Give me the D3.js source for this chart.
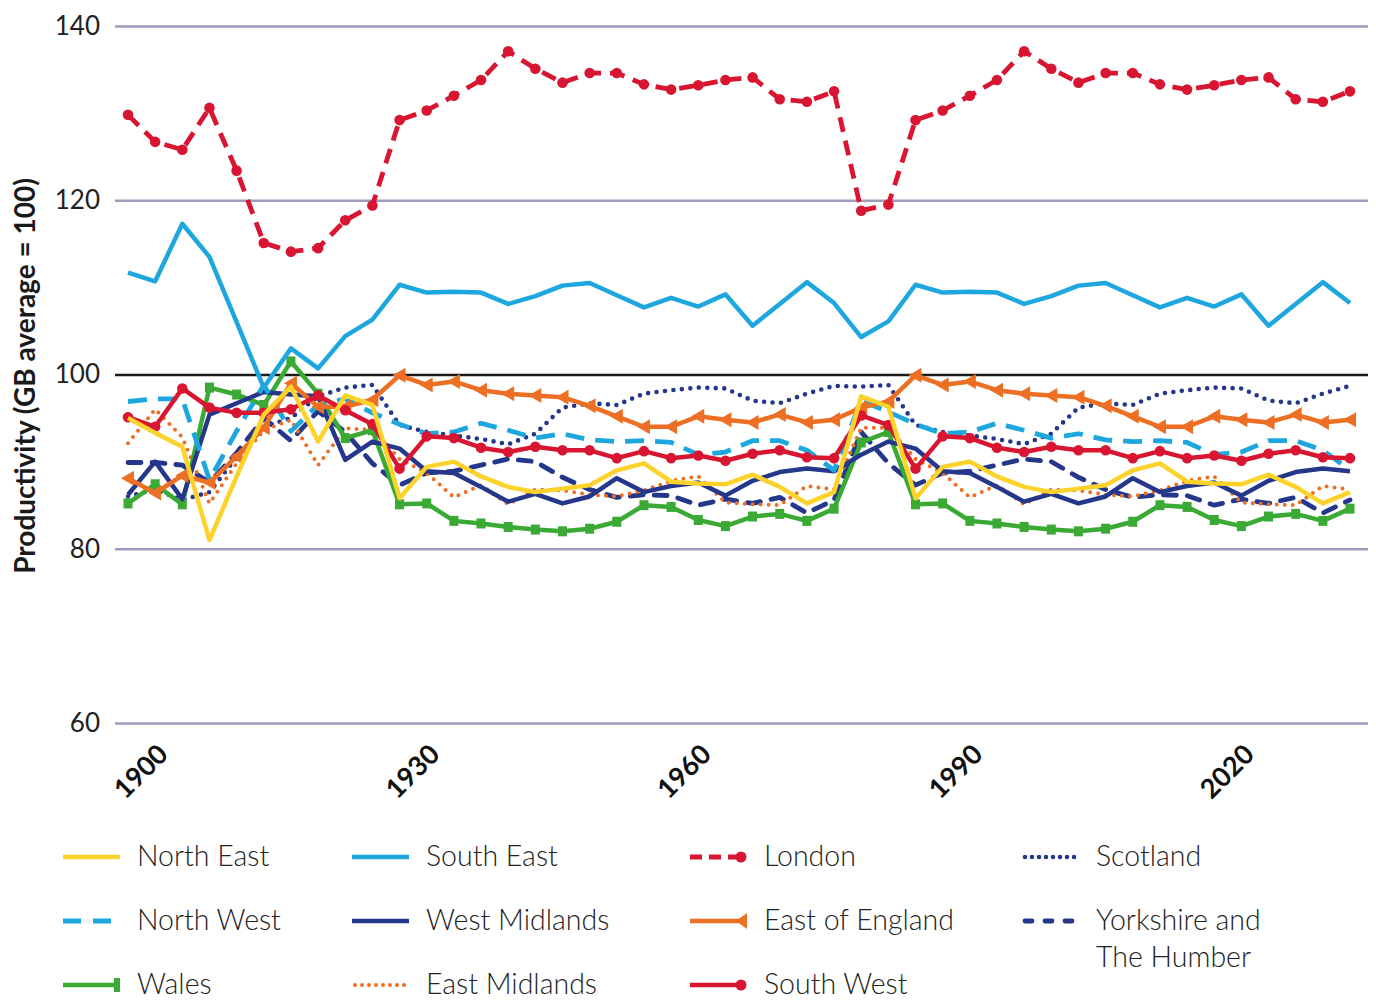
<!DOCTYPE html>
<html><head><meta charset="utf-8">
<script src="https://cdn.jsdelivr.net/npm/d3@7"></script>
<style>
body{margin:0;background:#fff;}
svg{display:block;font-family:Lato,"Open Sans","Noto Sans",sans-serif;}
</style>
</head><body>
<svg id="chart" width="1376" height="1000"></svg>
<script>
// ---------- data ----------
const years = [1897,1900,1903,1906,1909,1912,1915,1918,1921,1924,1927,1930,1933,1936,1939,1942,1945,1948,1951,1954,1957,1960,1963,1966,1969,1972,1975,1978,1981,1984,1987,1990,1993,1996,1999,2002,2005,2008,2011,2014,2017,2020,2023,2026,2029,2032];
const yTickValues = [60,80,100,120,140];
const xTickValues = [1900,1930,1960,1990,2020];
const xTickLabels = ["1900","1930","1960","1990","2020"];
const yTitle = "Productivity (GB average = 100)";

const seriesNames = ["North East","South East","London","Scotland","North West","West Midlands","East of England","Yorkshire and The Humber","Wales","East Midlands","South West"];

const northEast = [95.0,93.3,91.7,81.0,88.3,95.4,98.6,92.3,97.6,96.5,85.8,89.4,90.0,88.3,87.1,86.5,86.9,87.3,89.0,89.8,87.7,87.5,87.4,88.5,87.1,85.2,86.5,97.5,96.3,85.8,89.4,90.0,88.3,87.1,86.5,86.9,87.3,89.0,89.8,87.7,87.5,87.4,88.5,87.1,85.2,86.5];
const southEast = [111.7,110.7,117.3,113.5,106.0,98.5,103.0,100.7,104.4,106.3,110.3,109.4,109.5,109.4,108.1,109.0,110.2,110.5,109.1,107.7,108.8,107.8,109.2,105.6,108.1,110.6,108.2,104.3,106.1,110.3,109.4,109.5,109.4,108.1,109.0,110.2,110.5,109.1,107.7,108.8,107.8,109.2,105.6,108.1,110.6,108.2];
const london = [129.8,126.7,125.8,130.6,123.4,115.1,114.1,114.5,117.7,119.4,129.2,130.3,132.0,133.8,137.1,135.1,133.5,134.6,134.6,133.3,132.7,133.2,133.8,134.1,131.6,131.3,132.5,118.8,119.5,129.2,130.3,132.0,133.8,137.1,135.1,133.5,134.6,134.6,133.3,132.7,133.2,133.8,134.1,131.6,131.3,132.5];
const scotland = [86.0,86.8,85.6,86.5,90.5,94.0,95.0,97.5,98.5,98.8,94.2,93.4,93.0,92.6,92.0,93.2,96.2,96.7,96.5,97.8,98.2,98.5,98.4,97.0,96.7,97.8,98.7,98.6,98.8,94.2,93.4,93.0,92.6,92.0,93.2,96.2,96.7,96.5,97.8,98.2,98.5,98.4,97.0,96.7,97.8,98.7];
const northWest = [96.9,97.2,97.2,87.9,93.5,98.8,93.5,96.5,97.2,95.6,94.3,93.2,93.4,94.4,93.6,92.7,93.2,92.5,92.3,92.4,92.2,90.8,91.1,92.4,92.4,91.3,89.0,97.0,95.7,94.3,93.2,93.4,94.4,93.6,92.7,93.2,92.5,92.3,92.4,92.2,90.8,91.1,92.4,92.4,91.3,89.0];
const westMidlands = [86.2,90.0,85.7,95.4,96.7,98.0,97.7,97.5,90.2,92.3,91.5,88.9,88.7,87.1,85.4,86.3,85.2,86.0,88.1,86.5,87.2,87.6,86.1,87.8,88.8,89.2,88.9,90.8,92.3,91.5,88.9,88.7,87.1,85.4,86.3,85.2,86.0,88.1,86.5,87.2,87.6,86.1,87.8,88.8,89.2,88.9];
const eastOfEngland = [88.1,86.4,88.4,87.6,90.6,93.9,99.0,96.3,96.3,97.1,99.9,98.8,99.2,98.2,97.8,97.6,97.4,96.4,95.2,94.0,94.0,95.2,94.8,94.5,95.4,94.5,94.8,96.2,96.9,99.9,98.8,99.2,98.2,97.8,97.6,97.4,96.4,95.2,94.0,94.0,95.2,94.8,94.5,95.4,94.5,94.8];
const yorkshire = [89.9,89.9,89.6,87.6,91.0,95.0,92.4,95.8,93.4,89.8,87.3,88.7,88.9,89.6,90.3,90.0,88.2,86.8,85.9,86.2,86.1,85.0,85.7,85.2,85.9,84.1,85.6,93.4,89.8,87.3,88.7,88.9,89.6,90.3,90.0,88.2,86.8,85.9,86.2,86.1,85.0,85.7,85.2,85.9,84.1,85.6];
const wales = [85.2,87.4,85.1,98.5,97.7,96.5,101.5,97.8,92.7,93.6,85.1,85.2,83.2,82.9,82.5,82.2,82.0,82.3,83.1,85.0,84.8,83.3,82.6,83.7,84.0,83.2,84.6,92.2,93.4,85.1,85.2,83.2,82.9,82.5,82.2,82.0,82.3,83.1,85.0,84.8,83.3,82.6,83.7,84.0,83.2,84.6];
const eastMidlands = [92.1,96.0,92.8,85.2,89.8,93.6,94.8,89.6,93.8,93.7,90.3,88.7,85.9,87.3,85.1,86.8,86.7,86.2,86.0,86.7,87.8,88.3,85.3,85.1,85.0,87.2,86.8,93.9,93.9,90.3,88.7,85.9,87.3,85.1,86.8,86.7,86.2,86.0,86.7,87.8,88.3,85.3,85.1,85.0,87.2,86.8];
const southWest = [95.1,94.0,98.4,96.2,95.6,95.6,96.0,97.6,95.9,94.3,89.2,92.9,92.7,91.6,91.1,91.7,91.3,91.3,90.4,91.2,90.4,90.7,90.1,90.9,91.3,90.5,90.4,95.3,94.2,89.2,92.9,92.7,91.6,91.1,91.7,91.3,91.3,90.4,91.2,90.4,90.7,90.1,90.9,91.3,90.5,90.4];

// ---------- styles ----------
const C = {yellow:"#fdd22b", lblue:"#1ea7df", red:"#d81631", navy:"#25378a", orange:"#ec6f23", green:"#3aaa35"};
const styles = {
  "North East":{color:C.yellow,w:4.5,dash:null},
  "South East":{color:C.lblue,w:4.5,dash:null},
  "London":{color:C.red,w:4.8,dash:"15 9",marker:"circle"},
  "Scotland":{color:C.navy,w:4.6,dash:"0 8.5",cap:"round"},
  "North West":{color:C.lblue,w:4.8,dash:"19 11"},
  "West Midlands":{color:C.navy,w:4.5,dash:null},
  "East of England":{color:C.orange,w:4.5,dash:null,marker:"tri"},
  "Yorkshire and The Humber":{color:C.navy,w:4.8,dash:"13 11",cap:"round"},
  "Wales":{color:C.green,w:4.5,dash:null,marker:"square"},
  "East Midlands":{color:C.orange,w:4.0,dash:"0 8",cap:"round"},
  "South West":{color:C.red,w:4.5,dash:null,marker:"circle"}
};
const valuesByName = {
  "North East":northEast,"South East":southEast,"London":london,"Scotland":scotland,
  "North West":northWest,"West Midlands":westMidlands,"East of England":eastOfEngland,
  "Yorkshire and The Humber":yorkshire,"Wales":wales,"East Midlands":eastMidlands,"South West":southWest
};
const drawOrder = ["Scotland","Yorkshire and The Humber","East Midlands","Wales","West Midlands","North West","South East","East of England","South West","London","North East"];

// ---------- chart ----------
const svg = d3.select("#chart");
const plotLeft = 115, plotRight = 1368;
const x = d3.scaleLinear().domain([1897,2032]).range([128,1350]);
const y = d3.scaleLinear().domain([60,140]).range([723,26]);

// gridlines + y labels
const yAxis = svg.append("g").attr("transform",`translate(${plotLeft},0)`)
  .call(d3.axisLeft(y).tickValues(yTickValues).tickSize(-(plotRight-plotLeft)).tickPadding(15).tickFormat(d3.format("d")));
yAxis.select(".domain").remove();
yAxis.selectAll(".tick line").attr("stroke",d=>d===100?"#1a1a1a":"#9f9bbd").attr("stroke-width",2.6);
yAxis.selectAll(".tick text").attr("font-size",26).attr("fill","#222").attr("font-family","Lato,sans-serif").attr("font-weight",400);

// x labels
const xAxis = svg.append("g").attr("transform","translate(0,723)")
  .call(d3.axisBottom(x).tickValues(xTickValues).tickSize(0).tickFormat((d,i)=>xTickLabels[i]));
xAxis.select(".domain").remove();
xAxis.selectAll(".tick text")
  .attr("x",0).attr("y",0).attr("dy",0)
  .attr("transform","translate(14,33) rotate(-45)")
  .attr("text-anchor","end")
  .attr("font-size",27).attr("font-weight",700).attr("fill","#111").attr("font-family","Lato,sans-serif");

// y title
svg.append("text").attr("transform","translate(35,376) rotate(-90)")
  .attr("text-anchor","middle").attr("font-size",28).attr("font-weight",700).attr("fill","#1a1a1a")
  .text(yTitle);

const line = d3.line().x((d,i)=>x(years[i])).y(d=>y(d));
const triPath = "M-7,0 L6,-7.5 L6,7.5 Z";

const linesG = svg.append("g");
drawOrder.forEach(name=>{
  const s = styles[name], vals = valuesByName[name];
  const g = linesG.append("g");
  g.append("path").datum(vals).attr("d",line).attr("fill","none")
    .attr("stroke",s.color).attr("stroke-width",s.w)
    .attr("stroke-dasharray",s.dash).attr("stroke-linecap",s.cap||"butt").attr("stroke-linejoin","round");
  if(s.marker==="circle"){
    g.selectAll("circle").data(vals).join("circle")
      .attr("cx",(d,i)=>x(years[i])).attr("cy",d=>y(d)).attr("r",5.3).attr("fill",s.color);
  } else if(s.marker==="tri"){
    g.selectAll("path.m").data(vals).join("path").attr("class","m")
      .attr("d",triPath).attr("transform",(d,i)=>`translate(${x(years[i])},${y(d)})`).attr("fill",s.color);
  } else if(s.marker==="square"){
    g.selectAll("rect").data(vals).join("rect")
      .attr("x",(d,i)=>x(years[i])-4.5).attr("y",d=>y(d)-5).attr("width",9).attr("height",10).attr("fill",s.color);
  }
});

// ---------- legend ----------
const colX = [63,352,690,1022];
const rowY = [857,921,985];
const legend = svg.append("g");
seriesNames.forEach((name,k)=>{
  const s = styles[name];
  const cx = colX[k%4], cy = rowY[Math.floor(k/4)];
  const g = legend.append("g").attr("transform",`translate(${cx},${cy})`);
  let len = 57;
  let dash = s.dash;
  if(name==="London") dash = "12 7";
  if(name==="North West") dash = "18 12";
  if(name==="Yorkshire and The Humber") dash = "7 13";
  if(name==="Scotland") dash = "0 7";
  if(name==="East Midlands") dash = "0 7";
  const lineEnd = s.marker ? len-4 : len;
  g.append("line").attr("x1",s.cap==="round"?3:0).attr("x2",lineEnd).attr("y1",0).attr("y2",0)
    .attr("stroke",s.color).attr("stroke-width",s.w).attr("stroke-dasharray",dash).attr("stroke-linecap",s.cap||"butt");
  if(s.marker==="circle") g.append("circle").attr("cx",len-6).attr("cy",0).attr("r",5.5).attr("fill",s.color);
  if(s.marker==="tri") g.append("path").attr("d","M-6,0 L5,-8 L5,8 Z").attr("transform",`translate(${len-5},0)`).attr("fill",s.color);
  if(s.marker==="square") g.append("rect").attr("x",len-6).attr("y",-7).attr("width",6).attr("height",14).attr("fill",s.color);
  const t = g.append("text").attr("x",74).attr("y",9).attr("font-size",28.5).attr("font-weight",300).attr("fill","#222");
  if(name==="Yorkshire and The Humber"){
    t.append("tspan").attr("x",74).attr("dy",0).text("Yorkshire and");
    t.append("tspan").attr("x",74).attr("dy",37).text("The Humber");
  } else t.text(name);
});
</script>
</body></html>
